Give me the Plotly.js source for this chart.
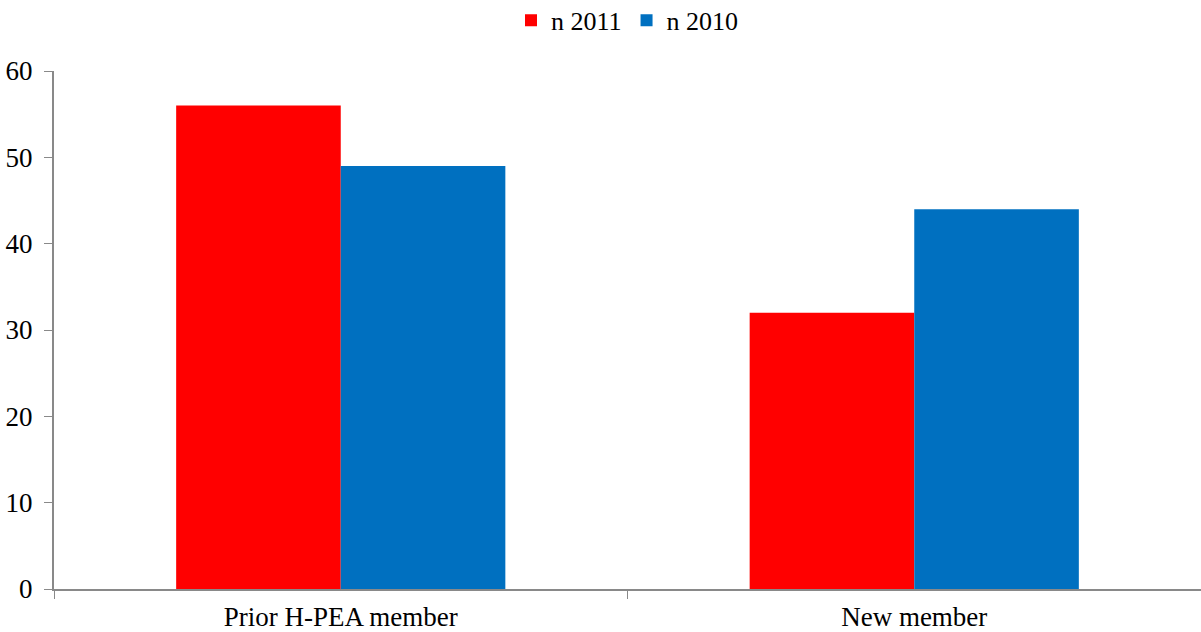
<!DOCTYPE html>
<html>
<head>
<meta charset="utf-8">
<script src="https://cdn.plot.ly/plotly-3.0.1.min.js"></script>
<style>html,body{margin:0;padding:0;background:#fff;}#chart{width:1201px;height:632px;}</style>
</head>
<body>
<div id="chart"></div>
<script>
const categories = ["Prior H-PEA member", "New member"];
const seriesNames = ["n 2011", "n 2010"];
const values2011 = [56, 32];
const values2010 = [49, 44];
const yTicks = [0, 10, 20, 30, 40, 50, 60];

const serif = "'Liberation Serif', 'Times New Roman', serif";

const traces = [
  {type: "bar", name: seriesNames[0], x: categories, y: values2011, marker: {color: "#FF0000"}},
  {type: "bar", name: seriesNames[1], x: categories, y: values2010, marker: {color: "#0070C0"}}
];

const layout = {
  width: 1201, height: 632,
  margin: {l: 54, r: 0, t: 71, b: 43, pad: 0, autoexpand: false},
  paper_bgcolor: "#fff", plot_bgcolor: "#fff",
  font: {family: serif, size: 27, color: "#000"},
  barmode: "group",
  bargap: 0.426,
  bargroupgap: 0,
  showlegend: true,
  legend: {orientation: "h", x: 0.5, xanchor: "center", y: 1.098, yref: "paper", yanchor: "middle",
           font: {family: serif, size: 26, color: "#000"}, itemwidth: 30, tracegroupgap: 0},
  xaxis: {
    type: "category", showgrid: false, zeroline: false,
    showline: true, linecolor: "#898989", linewidth: 2,
    ticks: "outside", tickson: "boundaries", ticklen: 8, tickcolor: "#898989", tickwidth: 1,
    ticklabelstandoff: 3,
    tickfont: {family: serif, size: 27, color: "#000"}
  },
  yaxis: {
    range: [0, 60], tickvals: yTicks, showgrid: false, zeroline: false,
    showline: true, linecolor: "#898989", linewidth: 2,
    ticks: "outside", ticklen: 8, tickcolor: "#898989", tickwidth: 1,
    ticklabelstandoff: 6,
    tickfont: {family: serif, size: 27, color: "#000"}
  }
};

Plotly.newPlot("chart", traces, layout, {displayModeBar: false, staticPlot: true});
</script>
</body>
</html>
